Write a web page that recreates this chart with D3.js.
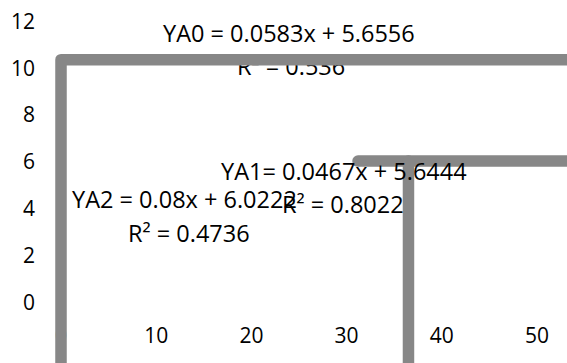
<!DOCTYPE html>
<html>
<head>
<meta charset="utf-8">
<script src="https://cdn.jsdelivr.net/npm/d3@7"></script>
<style>
  html, body { margin: 0; padding: 0; background: #fff; }
  svg { display: block; }
  text { font-family: "Open Sans", sans-serif; fill: #000; }
</style>
</head>
<body>
<svg id="chart" width="567" height="363"></svg>
<script>
// Tick values for both axes
const xTicks = [0, 10, 20, 30, 40, 50];
const yTicks = [0, 2, 4, 6, 8, 10, 12];

// Series traces (x, y pairs)
const seriesA0 = [[0, -3], [0, 10.37], [60, 10.37]];
const seriesA1 = [[31.2, 6.04], [60, 6.04]];
const seriesA2 = [[36.5, 6.04], [36.5, -3]];

// Trendline equation labels
const labelsUnder = [
  { text: "R\u00B2 = 0.536", x: 237, y: 75 }
];
const labelsOver = [
  { text: "YA0 = 0.0583x + 5.6556", x: 163, y: 41.5 },
  { text: "YA1= 0.0467x + 5.6444", x: 221, y: 180 },
  { text: "R\u00B2 = 0.8022", x: 282, y: 213 },
  { text: "YA2 = 0.08x + 6.0222", x: 72, y: 208 },
  { text: "R\u00B2 = 0.4736", x: 128, y: 241.5 }
];

const svg = d3.select("#chart");
const x = d3.scaleLinear().domain([0, 50]).range([61, 537]);
const y = d3.scaleLinear().domain([0, 12]).range([302.5, 21.5]);

const line = d3.line().x(d => x(d[0])).y(d => y(d[1]));
const grey = "#878787";

// Axis tick labels
svg.append("g").selectAll("text").data(yTicks).join("text")
  .attr("x", 35).attr("y", d => y(d) + 7.3)
  .attr("text-anchor", "end").style("font-size", "21px")
  .text(d => d);

svg.append("g").selectAll("text").data(xTicks).join("text")
  .attr("x", d => x(d)).attr("y", 343)
  .attr("text-anchor", "middle").style("font-size", "21px")
  .text(d => d);

function drawSeries(data) {
  svg.append("path").datum(data)
    .attr("d", line)
    .attr("fill", "none")
    .attr("stroke", grey)
    .attr("stroke-width", 11.5)
    .attr("stroke-linejoin", "round")
    .attr("stroke-linecap", "round");
}

function drawLabels(list) {
  svg.append("g").selectAll("text").data(list).join("text")
    .attr("x", d => d.x).attr("y", d => d.y)
    .style("font-size", "23.5px")
    .text(d => d.text);
}

drawSeries(seriesA1);
drawSeries(seriesA2);
drawLabels(labelsUnder);
drawSeries(seriesA0);
drawLabels(labelsOver);
</script>
</body>
</html>
